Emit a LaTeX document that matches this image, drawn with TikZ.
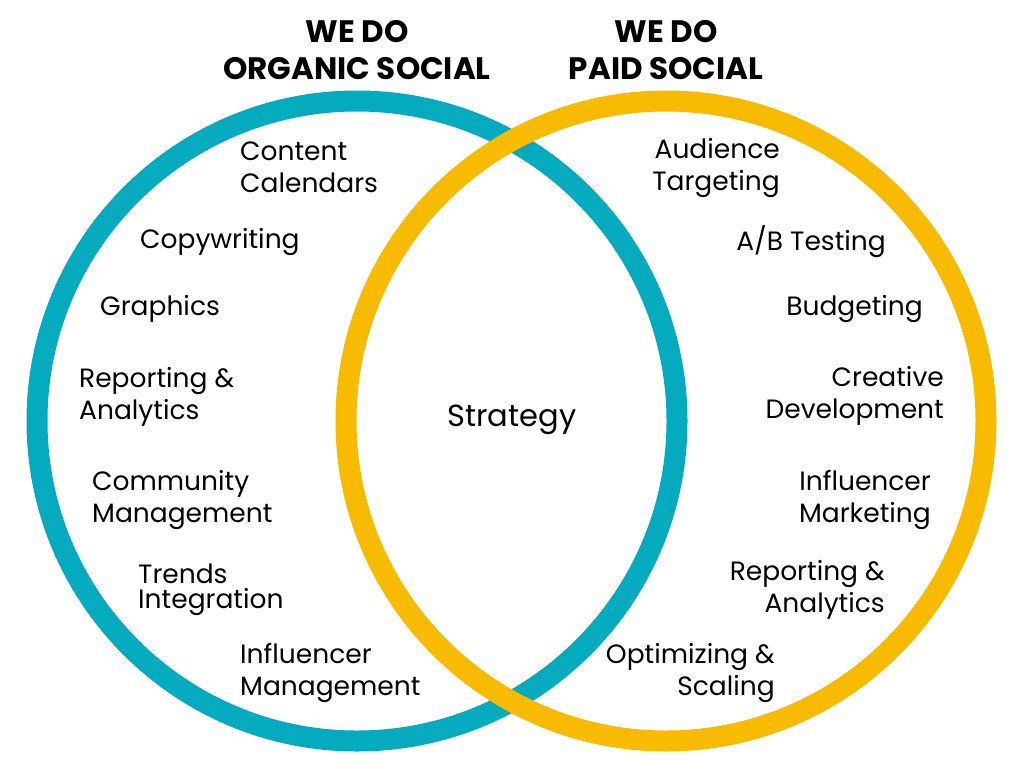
\documentclass[tikz,border=0pt]{standalone}
\usepackage{fontspec}
\setmainfont{Poppins}
\newfontfamily\titlefont{Poppins}[UprightFont=* Bold]
\definecolor{teal1}{HTML}{04ABBF}
\definecolor{gold1}{HTML}{F8BB00}
\begin{document}
\begin{tikzpicture}[x=1pt,y=-1pt,
  ring/.style={line width=21pt},
  lbl/.style={inner sep=0pt,font=\fontsize{26.5}{31.5}\selectfont},
  lleft/.style={lbl,anchor=base west,align=left},
  lright/.style={lbl,anchor=base east,align=right},
  ttl/.style={inner sep=0pt,anchor=base,align=center,font=\titlefont\fontsize{31}{36}\selectfont}]
\useasboundingbox (0,0) rectangle (1024,768);
\fill[white] (0,0) rectangle (1024,768);
\coordinate (cl) at (357,421);
\coordinate (cr) at (666,421);
\draw[ring,teal1] (cl) circle[radius=320pt];
\draw[ring,gold1] (cr) circle[radius=320pt];
% titles
\node[ttl] (t1) at (357,79) {WE DO\\ORGANIC SOCIAL};
\node[ttl] (t2) at (666,79) {WE DO\\PAID SOCIAL};
% centre
\node[lbl,anchor=base,font=\fontsize{30.5}{36}\selectfont] (s) at (512,426) {Strategy};
% left
\node[lleft] (l1) at (240,192) {Content\\Calendars};
\node[lleft] (l2) at (140,248) {Copywriting};
\node[lleft] (l3) at (100,315) {Graphics};
\node[lleft] (l4) at (79,419) {Reporting \&\\Analytics};
\node[lleft] (l5) at (92,522) {Community\\Management};
\node[lleft] (l6) at (138,608) {Trends\\[-6.5pt]Integration};
\node[lleft] (l7) at (240,695) {Influencer\\Management};
% right
\node[lright] (r1) at (780,190) {Audience\\Targeting};
\node[lright] (r2) at (886,250) {A/B Testing};
\node[lright] (r3) at (923,315) {Budgeting};
\node[lright] (r4) at (944,418) {Creative\\Development};
\node[lright] (r5) at (931,522) {Influencer\\Marketing};
\node[lright] (r6) at (885,612) {Reporting \&\\Analytics};
\node[lright] (r7) at (775,695) {Optimizing \&\\Scaling};
\end{tikzpicture}
\end{document}
